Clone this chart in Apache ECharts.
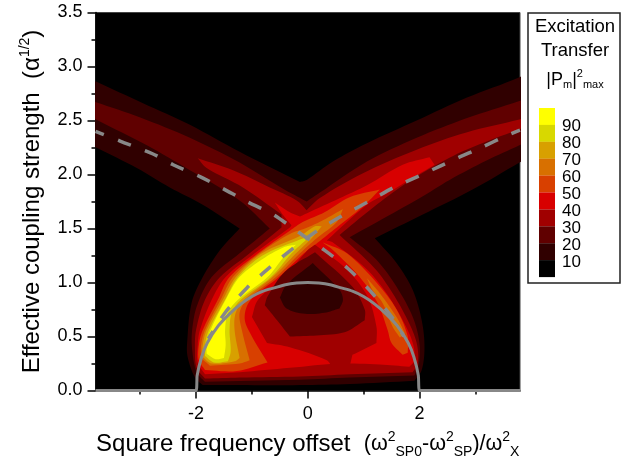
<!DOCTYPE html>
<html><head><meta charset="utf-8">
<style>html,body{margin:0;padding:0;background:#fff}#c{width:636px;height:468px}</style>
<script src="https://cdn.jsdelivr.net/npm/echarts@6/dist/echarts.min.js"></script>
</head><body><div id="c"></div>
<script>
// Level colours, lowest band (10) first
const levelColors = ['#000000','#300000','#600000','#a00000','#d80000','#d84000','#d87000','#d8a000','#d8d800','#ffff00'];
const legendLabels = ['10','20','30','40','50','60','70','80','90'];

// Contour outlines, [offset, coupling]; arms run past the frame and are clipped by it
const band20 = [[-4.6,3.05],[-3.79,2.86],[-2.95,2.66],[-2.11,2.46],[-1.22,2.21],[-0.14,1.93],[-0.02,1.95],[0.45,2.12],[1.06,2.29],[1.95,2.50],[2.84,2.71],[3.79,2.90],[4.6,3.1],[4.6,2.34],[3.79,2.11],[2.95,1.86],[2.06,1.63],[1.20,1.41],[1.59,1.18],[1.88,0.93],[2.04,0.65],[2.09,0.40],[2.04,0.19],[1.91,0.09],[0.75,0.06],[-0.14,0.05],[-1.22,0.05],[-1.88,0.05],[-2.02,0.12],[-2.15,0.31],[-2.16,0.44],[-2.08,0.81],[-1.88,1.05],[-1.57,1.30],[-1.22,1.50],[-1.88,1.72],[-2.47,1.88],[-3.06,2.06],[-3.79,2.25],[-4.6,2.46]];
const band30 = [[-4.6,2.82],[-3.79,2.67],[-3.01,2.53],[-2.11,2.34],[-1.22,2.11],[-0.45,1.87],[-0.02,1.75],[0.21,1.83],[1.06,2.12],[1.95,2.34],[2.84,2.52],[3.79,2.68],[4.6,2.82],[4.6,2.47],[3.79,2.27],[3.20,2.13],[2.54,1.95],[2.00,1.78],[0.75,1.42],[1.23,1.21],[1.59,0.96],[1.88,0.68],[2.00,0.44],[1.99,0.25],[1.91,0.14],[0.75,0.12],[-0.14,0.10],[-1.84,0.08],[-1.99,0.17],[-2.07,0.38],[-2.07,0.56],[-1.98,0.79],[-1.72,1.05],[-1.22,1.27],[-0.68,1.50],[-1.22,1.76],[-2.11,2.04],[-2.88,2.27],[-3.79,2.51],[-4.6,2.74]];
const band40 = [[-1.97,2.15],[-1.34,2.04],[-0.68,1.88],[-0.20,1.76],[-0.02,1.67],[0.21,1.78],[0.98,2.01],[1.95,2.23],[2.84,2.39],[3.79,2.51],[4.6,2.63],[4.6,2.58],[3.79,2.42],[2.84,2.23],[2.24,2.07],[1.65,1.88],[1.11,1.67],[0.57,1.44],[1.20,1.13],[1.52,0.90],[1.79,0.65],[1.95,0.44],[1.97,0.25],[1.88,0.17],[0.75,0.15],[-0.14,0.13],[-1.22,0.12],[-1.84,0.11],[-1.99,0.21],[-2.02,0.38],[-2.00,0.56],[-1.84,0.84],[-1.57,1.05],[-1.04,1.27],[-0.47,1.51],[-0.47,1.63],[-1.16,1.88],[-1.81,2.06]];
const band50 = [[-0.59,1.74],[-0.32,1.65],[-0.14,1.61],[-0.02,1.64],[0.57,1.78],[1.06,1.90],[1.70,2.09],[2.18,2.16],[2.27,2.09],[1.88,1.97],[1.47,1.84],[1.06,1.72],[0.34,1.39],[0.45,1.37],[1.06,1.12],[1.41,0.90],[1.70,0.65],[1.88,0.44],[1.91,0.28],[1.82,0.22],[1.29,0.24],[0.57,0.25],[-0.32,0.21],[-1.22,0.17],[-1.84,0.15],[-1.97,0.26],[-1.97,0.42],[-1.93,0.56],[-1.72,0.84],[-1.47,1.05],[-0.95,1.27],[-0.32,1.51],[-0.29,1.53],[-0.45,1.63]];
const band60a = [[-1.84,0.19],[-1.27,0.18],[-0.72,0.26],[-1.00,0.50],[-1.13,0.67],[-1.02,0.84],[-0.52,1.05],[-0.07,1.27],[0.18,1.37],[0.52,1.51],[0.98,1.70],[1.29,1.86],[0.75,1.79],[0.30,1.65],[-0.09,1.56],[-0.32,1.48],[-0.89,1.27],[-1.40,1.05],[-1.61,0.84],[-1.88,0.56],[-1.95,0.42],[-1.95,0.28]];
const band60b = [[0.27,1.37],[0.70,1.27],[1.23,1.00],[1.59,0.75],[1.79,0.50],[1.79,0.35],[1.70,0.33],[1.50,0.44],[1.43,0.56],[1.25,0.81],[0.93,1.05],[0.45,1.30]];
const band70a = [[-1.75,0.23],[-1.22,0.25],[-1.04,0.28],[-1.18,0.56],[-1.22,0.72],[-1.09,0.84],[-0.57,1.05],[-0.14,1.27],[0.16,1.41],[0.52,1.56],[0.63,1.68],[0.21,1.56],[-0.05,1.50],[-0.32,1.45],[-0.86,1.27],[-1.34,1.05],[-1.56,0.84],[-1.84,0.56],[-1.91,0.42],[-1.91,0.30]];
const band70b = [[1.06,1.04],[1.29,0.90],[1.59,0.68],[1.74,0.53],[1.65,0.49],[1.52,0.59],[1.34,0.81],[1.16,0.93]];
const band80 = [[-1.72,0.25],[-1.31,0.27],[-1.22,0.30],[-1.31,0.56],[-1.29,0.72],[-1.14,0.84],[-0.63,1.05],[-0.21,1.27],[0.07,1.41],[0.25,1.52],[0.13,1.52],[-0.14,1.43],[-0.82,1.27],[-1.29,1.05],[-1.52,0.84],[-1.81,0.56],[-1.88,0.42],[-1.88,0.31]];
const band90 = [[-1.68,0.26],[-1.43,0.27],[-1.38,0.36],[-1.40,0.56],[-1.36,0.72],[-1.20,0.84],[-0.66,1.05],[-0.29,1.27],[-0.04,1.39],[0.04,1.43],[-0.18,1.39],[-0.81,1.25],[-1.25,1.05],[-1.48,0.84],[-1.77,0.56],[-1.84,0.42],[-1.84,0.32]];
const bandTop = [[-1.65,0.29],[-1.50,0.30],[-1.47,0.42],[-1.48,0.56],[-1.43,0.72],[-1.25,0.84],[-0.72,1.05],[-0.41,1.25],[-0.21,1.35],[-0.41,1.33],[-0.77,1.23],[-1.22,1.05],[-1.47,0.84],[-1.74,0.56],[-1.81,0.42],[-1.81,0.34]];
// Central dip, drawn over the bands above
const dip40 = [[0.13,1.35],[0.70,1.12],[1.07,0.87],[1.23,0.59],[1.23,0.44],[0.80,0.33],[0.75,0.22],[0.43,0.22],[0.34,0.28],[-0.32,0.40],[-0.73,0.44],[-1.00,0.68],[-0.89,0.84],[-0.43,1.05],[0.00,1.30]];
const dip30 = [[0.13,1.28],[0.80,0.96],[1.02,0.75],[1.02,0.65],[0.66,0.54],[0.16,0.51],[-0.32,0.50],[-0.55,0.65],[-0.77,0.79],[-0.72,0.87],[-0.41,1.10]];
const dip20 = [[0.09,1.18],[0.57,0.93],[0.63,0.84],[0.57,0.76],[0.30,0.72],[-0.05,0.71],[-0.38,0.76],[-0.50,0.86],[-0.38,0.98]];

// Overlaid curves
const arcX = [-3.8,-2,-1.98,-1.9,-1.8,-1.6,-1.4,-1.2,-1,-0.8,-0.6,-0.4,-0.2,0,0.2,0.4,0.6,0.8,1,1.2,1.4,1.6,1.8,1.9,1.98,2,3.8];
const arcY = [0,0,0.14,0.31,0.44,0.60,0.71,0.80,0.87,0.92,0.95,0.98,0.995,1,0.995,0.98,0.95,0.92,0.87,0.80,0.71,0.60,0.44,0.31,0.14,0,0];
const fallingX = [-3.8,-3.36,-2.77,-2.41,-1.93,-1.52,-1.09,-0.62,-0.18,0.27,0.72,1.14,1.52,1.72];
const fallingY = [2.40,2.31,2.19,2.09,1.98,1.87,1.75,1.63,1.47,1.31,1.13,0.91,0.67,0.50];
const risingX = [-1.78,-1.48,-1.09,-0.68,-0.23,0.20,0.66,1.09,1.54,2.09,2.67,3.11,3.56,3.8];
const risingY = [0.48,0.72,0.95,1.14,1.33,1.49,1.63,1.75,1.88,2.01,2.15,2.25,2.36,2.41];

const majorX = [-2,0,2];
const minorX = [-3,-1,1,3];

const polygons = [
  [band20,1],[band30,2],[band40,3],[band50,4],[band60a,5],[band60b,5],[band70a,6],[band70b,6],
  [band80,7],[band90,8],[bandTop,9],[dip40,3],[dip30,2],[dip20,1]
];
const FF = '"Liberation Sans"';
const zip = (a,b)=>a.map((v,i)=>[v,b[i]]);

// Curve an outline between its vertices, leaving sharp corners sharp
function roundOutline(p){
  const n=p.length,out=[],unit=(a,b)=>{const d=Math.hypot(b[0]-a[0],b[1]-a[1])||1;return [(b[0]-a[0])/d,(b[1]-a[1])/d];};
  const corner=p.map((c,i)=>{
    const u=unit(p[(i+n-1)%n],c),v=unit(c,p[(i+1)%n]);
    return u[0]*v[0]+u[1]*v[1]<0.72;
  });
  for(let i=0;i<n;i++){
    const a=p[i],j=(i+1)%n,b=p[j],len=Math.hypot(b[0]-a[0],b[1]-a[1]),seg=unit(a,b);
    const ta=corner[i]?seg:unit(p[(i+n-1)%n],b);
    const tb=corner[j]?seg:unit(a,p[(j+1)%n]);
    for(let k=0;k<8;k++){
      const t=k/8,t2=t*t,t3=t2*t;
      const h00=2*t3-3*t2+1,h10=t3-2*t2+t,h01=-2*t3+3*t2,h11=t3-t2;
      out.push([h00*a[0]+h10*len*ta[0]+h01*b[0]+h11*len*tb[0],h00*a[1]+h10*len*ta[1]+h01*b[1]+h11*len*tb[1]]);
    }
  }
  return out;
}

const chart = echarts.init(document.getElementById('c'),null,{renderer:'canvas'});
const swatches = levelColors.slice().reverse().map((c,i)=>({
  type:'rect', shape:{x:539,y:108+i*16.9,width:16,height:17}, style:{fill:c}, z:10
}));
const labels = legendLabels.map((t,i)=>({
  type:'text', x:562, y:262-i*16.9, style:{text:t,font:'17px '+FF,fill:'#000',textVerticalAlign:'middle'}, z:10
}));
chart.setOption({
  animation:false,
  backgroundColor:'#fff',
  grid:{left:95.5,right:116,top:12.5,bottom:77.5,outerBoundsMode:'none',containLabel:false,show:true,backgroundColor:'#000',borderColor:'#444',borderWidth:1},
  xAxis:[{
    type:'value',min:-3.8,max:3.8,position:'bottom',
    axisLine:{onZero:false,lineStyle:{color:'#000',width:1.5}},
    axisTick:{show:true,length:8,customValues:majorX,lineStyle:{color:'#000',width:1.5}},
    axisLabel:{customValues:majorX,fontFamily:FF,fontSize:18,color:'#000',margin:15},
    splitLine:{show:false},
    name:'{t|Square frequency offset  }{f|(ω}{sup|2}{sub|SP0}{f|-ω}{sup|2}{sub|SP}{f|)/ω}{sup|2}{sub|X}',
    nameLocation:'middle',nameGap:39,
    nameTextStyle:{rich:{
      t:{fontFamily:FF,fontSize:24,color:'#000'},
      f:{fontFamily:FF,fontSize:21.5,color:'#000'},
      sup:{fontFamily:FF,fontSize:14,color:'#000',padding:[0,0,14,0]},
      sub:{fontFamily:FF,fontSize:14,color:'#000',padding:[16,0,0,0]}
    }}
  },{
    type:'value',min:-3.8,max:3.8,position:'bottom',
    axisLine:{show:false,onZero:false},
    axisTick:{show:true,length:4,customValues:minorX,lineStyle:{color:'#000',width:1.5}},
    axisLabel:{show:false},splitLine:{show:false}
  }],
  yAxis:{
    type:'value',min:0,max:3.5,interval:0.5,
    axisLine:{show:true,onZero:false,lineStyle:{color:'#000',width:1.5}},
    axisTick:{show:true,length:8,lineStyle:{color:'#000',width:1.5}},
    minorTick:{show:true,splitNumber:2,length:4,lineStyle:{color:'#000',width:1.5}},
    axisLabel:{fontFamily:FF,fontSize:18,color:'#000',margin:13,formatter:v=>v.toFixed(1)},
    splitLine:{show:false},minorSplitLine:{show:false},
    name:'{t|Effective coupling strength  (α}{sup|1/2}{t|)}',
    nameLocation:'middle',nameGap:49,nameRotate:90,
    nameTextStyle:{rich:{
      t:{fontFamily:FF,fontSize:24,color:'#000'},
      sup:{fontFamily:FF,fontSize:14,color:'#000',padding:[0,0,14,0]}
    }}
  },
  series:[
    {type:'custom',clip:true,coordinateSystem:'cartesian2d',silent:true,z:1,
     data:polygons.map((p,i)=>[i]),encode:{x:-1,y:-1},
     renderItem:(params,api)=>{
       const p=polygons[api.value(0)];
       return {type:'polygon',shape:{points:roundOutline(p[0].map(q=>api.coord(q)))},style:{fill:levelColors[p[1]]}};
     }},
    {type:'line',data:zip(fallingX,fallingY),symbol:'none',smooth:0.3,clip:true,z:3,
     lineStyle:{color:'#888',width:3.5,type:[14,15],dashOffset:5}},
    {type:'line',data:zip(risingX,risingY),symbol:'none',smooth:0.3,clip:true,z:3,
     lineStyle:{color:'#888',width:3.5,type:[14,15],dashOffset:5}},
    {type:'line',data:zip(arcX,arcY),symbol:'none',smooth:0.2,clip:false,z:4,
     lineStyle:{color:'#888',width:3}}
  ],
  graphic:[
    {type:'rect',shape:{x:528,y:13,width:92,height:270},style:{fill:'#fff',stroke:'#222',lineWidth:1.5},z:9},
    {type:'text',x:575,y:27,style:{text:'Excitation',font:'18.5px '+FF,fill:'#000',textAlign:'center',textVerticalAlign:'middle'},z:10},
    {type:'text',x:575,y:51,style:{text:'Transfer',font:'18.5px '+FF,fill:'#000',textAlign:'center',textVerticalAlign:'middle'},z:10},
    {type:'text',x:575,y:80,style:{
      text:'{t||P}{s|m}{t||}{u|2}{s|max}',align:'center',verticalAlign:'middle',
      rich:{t:{font:'18px '+FF,fill:'#000'},
            s:{font:'11px '+FF,fill:'#000',padding:[10,0,0,0]},
            u:{font:'11px '+FF,fill:'#000',padding:[0,0,12,0]}}
    },z:10},
    ...swatches,...labels
  ]
});
</script></body></html>
